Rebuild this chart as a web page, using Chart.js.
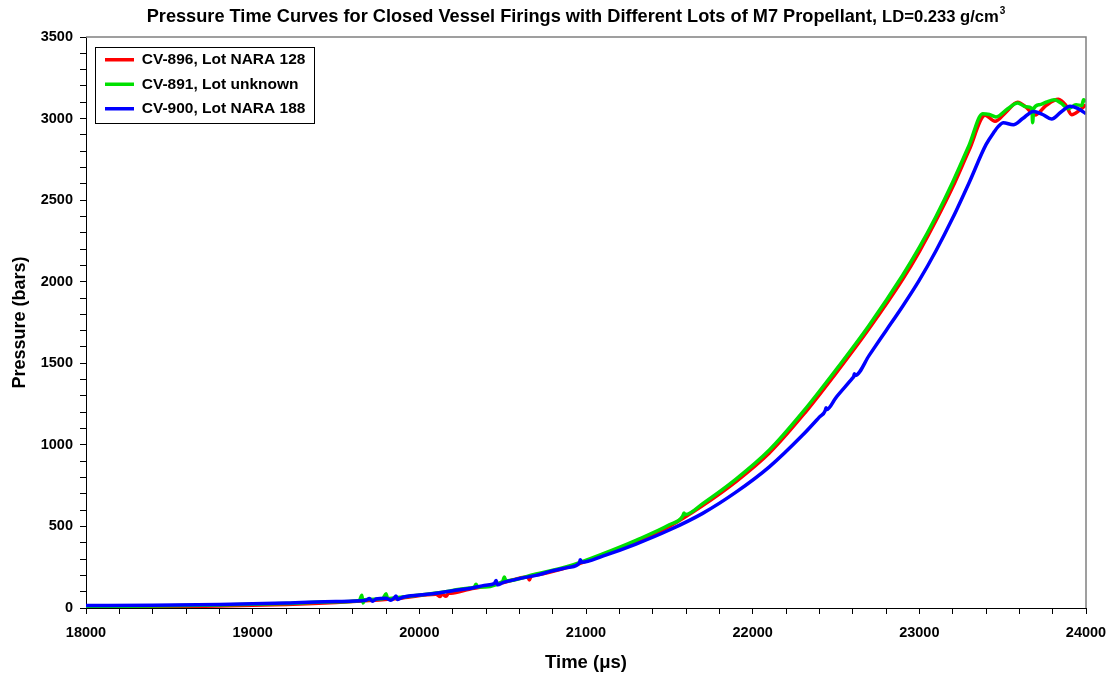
<!DOCTYPE html>
<html>
<head>
<meta charset="utf-8">
<script src="https://cdn.jsdelivr.net/npm/chart.js@4.4.1/dist/chart.umd.min.js"></script>
<style>
  html, body { margin: 0; padding: 0; background: #fff; }
  #wrap { width: 1112px; height: 675px; }
</style>
</head>
<body>
<div id="wrap"><canvas id="pressureChart" width="1112" height="675"></canvas></div>
<script>
// values (time in µs, pressure in bars)
const seriesLabels = ['CV-896, Lot NARA 128', 'CV-891, Lot unknown', 'CV-900, Lot NARA 188'];
const seriesColors = ['#ff0000', '#00e000', '#0000ff'];

const redTime = [18000, 18400, 18800, 19200, 19500, 19700, 19900, 20100, 20125, 20135, 20160, 20175, 20190, 20300, 20500, 20650, 20660, 20670, 20700, 20900, 21100, 21300, 21500, 21700, 21900, 22100, 22300, 22500, 22700, 22900, 23000, 23100, 23200, 23300, 23395, 23454, 23520, 23590, 23640, 23694, 23760, 23834, 23880, 23914, 23960, 24000];
const redPressure = [3, 6, 12, 22, 34, 46, 62, 84, 70, 86, 72, 90, 91, 115, 155, 190, 172, 194, 202, 252, 325, 405, 500, 628, 775, 950, 1180, 1440, 1715, 2015, 2185, 2375, 2580, 2810, 3020, 2983, 3040, 3100, 3070, 3022, 3080, 3118, 3080, 3024, 3050, 3085];

const greenTime = [18000, 18400, 18800, 19200, 19500, 19640, 19655, 19662, 19670, 19780, 19800, 19810, 19900, 20100, 20300, 20330, 20340, 20350, 20500, 20510, 20520, 20700, 20900, 21100, 21300, 21500, 21580, 21588, 21596, 21700, 21900, 22100, 22300, 22500, 22700, 22900, 23000, 23100, 23200, 23300, 23380, 23420, 23460, 23530, 23590, 23640, 23675, 23680, 23686, 23720, 23760, 23810, 23850, 23894, 23940, 23975, 23985, 24000];
const greenPressure = [9, 12, 18, 27, 38, 46, 78, 30, 50, 56, 88, 58, 68, 92, 122, 128, 145, 128, 162, 190, 166, 208, 258, 332, 415, 510, 562, 582, 573, 640, 790, 968, 1200, 1460, 1735, 2040, 2210, 2400, 2610, 2840, 3030, 3025, 3010, 3060, 3096, 3072, 3062, 2975, 3060, 3085, 3100, 3115, 3095, 3060, 3085, 3080, 3115, 3105];

const blueTime = [18000, 18400, 18800, 19200, 19500, 19680, 19700, 19720, 19740, 19800, 19830, 19850, 19860, 19870, 19900, 20000, 20100, 20200, 20300, 20400, 20450, 20460, 20470, 20500, 20600, 20700, 20800, 20900, 20960, 20965, 20975, 21100, 21300, 21500, 21700, 21900, 22100, 22300, 22400, 22436, 22440, 22444, 22500, 22600, 22606, 22610, 22614, 22700, 22800, 22900, 23000, 23100, 23200, 23300, 23400, 23450, 23474, 23504, 23564, 23620, 23684, 23740, 23794, 23850, 23904, 23950, 24000];
const bluePressure = [15, 17, 22, 30, 40, 48, 58, 42, 55, 60, 48, 62, 74, 52, 66, 80, 90, 106, 120, 140, 150, 168, 142, 155, 180, 200, 228, 250, 275, 296, 280, 318, 392, 478, 580, 710, 865, 1060, 1170, 1211, 1228, 1216, 1290, 1410, 1418, 1436, 1425, 1550, 1700, 1850, 2010, 2190, 2390, 2610, 2840, 2920, 2952, 2975, 2962, 3000, 3044, 3025, 2997, 3040, 3075, 3062, 3030];

const FONT = "'Liberation Sans', Arial, Helvetica, sans-serif";

function toPoints(times, values) {
  return times.map((t, i) => ({ x: t, y: values[i] }));
}

// plot frame (grey top/right edges) and the box round the legend
const framePlugin = {
  id: 'frame',
  afterLayout(chart) {
    // move the legend a little into the plot, like the reference
    const legend = chart.legend;
    if (legend) {
      legend.left = chart.chartArea.left + 10;
      legend.top = chart.chartArea.top + 6;
    }
  },
  afterDraw(chart) {
    const ctx = chart.ctx;
    const a = chart.chartArea;
    ctx.save();
    ctx.strokeStyle = '#808080';
    ctx.lineWidth = 1.5;
    ctx.beginPath();
    ctx.moveTo(a.left, a.top);
    ctx.lineTo(a.right, a.top);
    ctx.lineTo(a.right, a.bottom);
    ctx.stroke();

    const boxes = chart.legend ? chart.legend.legendHitBoxes : [];
    if (boxes.length) {
      let l = Infinity, r = -Infinity, t = Infinity, b = -Infinity;
      boxes.forEach(h => {
        l = Math.min(l, h.left); r = Math.max(r, h.left + h.width);
        t = Math.min(t, h.top); b = Math.max(b, h.top + h.height);
      });
      ctx.strokeStyle = '#000';
      ctx.lineWidth = 1;
      ctx.strokeRect(Math.round(l - 10) + 0.5, Math.round(t - 5) + 0.5, Math.round(r - l + 19), Math.round(b - t + 11));
    }
    ctx.restore();
  }
};

// title with the superscript "3"
const titlePlugin = {
  id: 'superTitle',
  afterDraw(chart) {
    const ctx = chart.ctx;
    const parts = [
      { text: 'Pressure Time Curves for Closed Vessel Firings with Different Lots of M7 Propellant, ', font: 'bold 18.2px ' + FONT, dy: 0, gap: 0 },
      { text: 'LD=0.233 g/cm', font: 'bold 16.6px ' + FONT, dy: 0, gap: 1 },
      { text: '3', font: 'bold 10px ' + FONT, dy: -8, gap: 0 }
    ];
    ctx.save();
    ctx.fillStyle = '#000';
    ctx.textBaseline = 'alphabetic';
    let total = 0;
    parts.forEach(p => { ctx.font = p.font; p.w = ctx.measureText(p.text).width; total += p.w + p.gap; });
    let x = 576 - total / 2;
    parts.forEach(p => {
      ctx.font = p.font;
      ctx.fillText(p.text, x, 22 + p.dy);
      x += p.w + p.gap;
    });
    ctx.restore();
  }
};

document.addEventListener('DOMContentLoaded', function() {
  const ctx = document.getElementById('pressureChart');
  const allTimes = [redTime, greenTime, blueTime];
  const allValues = [redPressure, greenPressure, bluePressure];

  new Chart(ctx, {
    type: 'line',
    data: {
      datasets: seriesLabels.map((label, i) => ({
        label: label,
        data: toPoints(allTimes[i], allValues[i]),
        borderColor: seriesColors[i],
        backgroundColor: seriesColors[i],
        borderWidth: 3.5,
        pointRadius: 0,
        cubicInterpolationMode: 'monotone',
        order: 2 - i   // blue on top, as in the reference
      }))
    },
    options: {
      responsive: false,
      animation: false,
      layout: { padding: { left: 8, right: 26, top: 37, bottom: 0 } },
      plugins: {
        tooltip: { enabled: false },
        title: { display: false },
        legend: {
          position: 'chartArea',
          align: 'start',
          labels: {
            usePointStyle: true,
            pointStyle: 'line',
            pointStyleWidth: 29,
            padding: 9,
            color: '#000',
            font: { family: FONT, size: 15.5, weight: 'bold' },
            sort: (a, b) => a.datasetIndex - b.datasetIndex
          }
        }
      },
      scales: {
        x: {
          type: 'linear',
          min: 18000,
          max: 24000,
          afterFit(scale) { scale.height = 67; scale.paddingLeft = 0; scale.paddingRight = 0; },
          border: { display: true, color: '#000', width: 1 },
          grid: { drawOnChartArea: false, drawTicks: true, tickLength: 6, color: '#000' },
          ticks: {
            stepSize: 200,
            autoSkip: false,
            maxRotation: 0,
            padding: 10,
            color: '#000',
            font: { family: FONT, size: 14.5, weight: 'bold' },
            callback: v => (v % 1000 === 0 ? String(v) : '')
          },
          title: {
            display: true,
            text: 'Time (μs)',
            color: '#000',
            font: { family: FONT, size: 18.5, weight: 'bold' },
            padding: { top: 0, bottom: 1 }
          }
        },
        y: {
          min: 0,
          max: 3500,
          afterFit(scale) { scale.width = 78; },
          border: { display: true, color: '#000', width: 1 },
          grid: { drawOnChartArea: false, drawTicks: true, tickLength: 6, color: '#000' },
          ticks: {
            stepSize: 100,
            autoSkip: false,
            padding: 7,
            color: '#000',
            font: { family: FONT, size: 14.5, weight: 'bold' },
            callback: v => (v % 500 === 0 ? String(v) : '')
          },
          title: {
            display: true,
            text: 'Pressure (bars)',
            color: '#000',
            font: { family: FONT, size: 18, weight: 'bold' },
            padding: { top: 1, bottom: 0 }
          }
        }
      }
    },
    plugins: [framePlugin, titlePlugin]
  });
});
</script>
</body>
</html>
